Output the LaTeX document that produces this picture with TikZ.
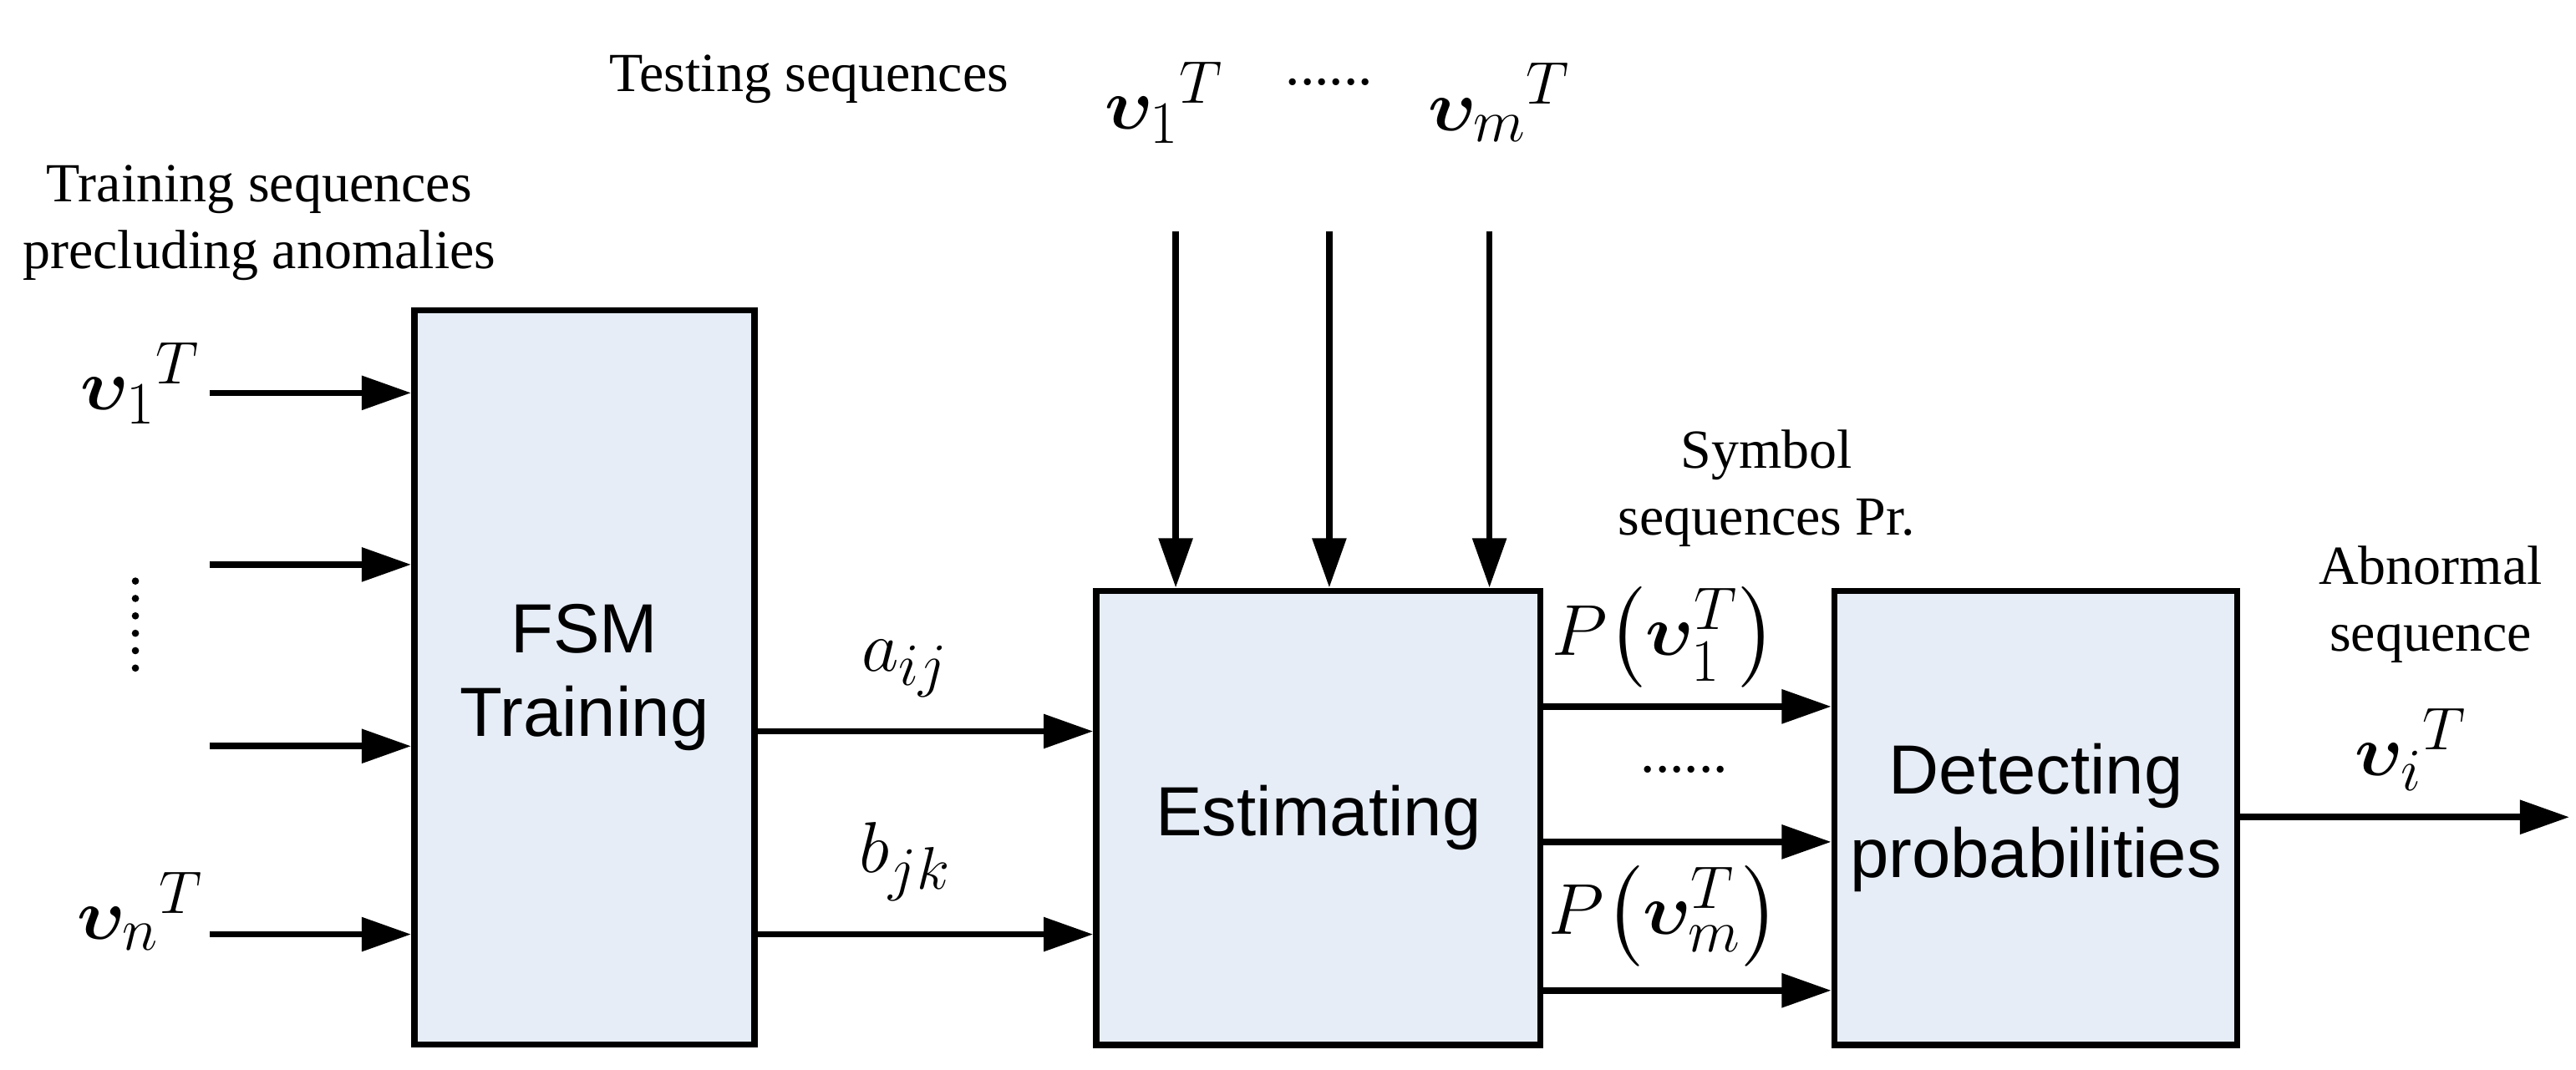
\documentclass[tikz,border=0pt]{standalone}
\usepackage{fontspec}
\usepackage{amsmath,amssymb,bm}
\setmainfont{Liberation Serif}
\newfontfamily\sansf{Liberation Sans}
\usetikzlibrary{arrows.meta}
\begin{document}
\begin{tikzpicture}[x=0.02cm,y=-0.02cm,
 box/.style={draw,line width=2.2pt,fill=boxc,inner sep=0},
 arr/.style={line width=2.2pt,-{Triangle[length=0.6cm,width=0.4cm]}},
 lab/.style={font=\fontsize{19}{23}\selectfont,align=center},
 bt/.style={font=\sansf\fontsize{24}{29}\selectfont,align=center},
 sym/.style={font=\fontsize{29}{33}\selectfont,inner sep=1pt}]
\definecolor{boxc}{HTML}{E6EDF7}
\useasboundingbox (0,0) rectangle (1560,648);
\node[box,minimum width=4.12cm,minimum height=8.9cm,anchor=north west] (fsm) at (249,186) {};
\node[bt] at (fsm.center) {FSM\\Training};
\node[box,minimum width=5.38cm,minimum height=5.5cm,anchor=north west] (est) at (662,356) {};
\node[bt] at (est.center) {Estimating};
\node[box,minimum width=4.88cm,minimum height=5.5cm,anchor=north west] (det) at (1109,356) {};
\node[bt] at (det.center) {Detecting\\probabilities};
% left inputs
\foreach \y/\n in {238/a,342/b,452/c,566/d}{\coordinate (l\n) at (127,\y); \draw[arr] (l\n) -- (l\n -| fsm.west);}
\node[lab] (tr) at (157,135) {Training sequences\\precluding anomalies};
\node[sym] (v1) at (85,232) {$\bm{\upsilon}_1{}^{T}$};
\node[sym] (vn) at (85,552) {$\bm{\upsilon}_n{}^{T}$};
\draw[line width=2.5pt,dash pattern=on 0pt off 6pt,line cap=round] (82,352) -- (82,410);
% FSM -> est
\coordinate (fa) at (fsm.east |- 0,443); \coordinate (fb) at (fsm.east |- 0,566);
\draw[arr] (fa) -- (fa -| est.west); \draw[arr] (fb) -- (fb -| est.west);
\node[sym] (aij) at (548,405) {$a_{ij}$};
\node[sym] (bjk) at (548,522) {$b_{jk}$};
% top inputs
\foreach \x/\n in {712/a,805/b,902/c}{\coordinate (t\n) at (\x,140); \draw[arr] (t\n) -- (t\n |- est.north);}
\node[lab] (ts) at (490,48) {Testing sequences};
\node[sym] (tv1) at (705,62) {$\bm{\upsilon}_1{}^{T}$};
\node[font=\fontsize{20}{22}\selectfont] (td) at (805,50) {......};
\node[sym] (tvm) at (908,62) {$\bm{\upsilon}_m{}^{T}$};
% est -> det
\foreach \y/\n in {428/a,510/b,600/c}{\coordinate (e\n) at (est.east |- 0,\y); \draw[arr] (e\n) -- (e\n -| det.west);}
\node[lab] (sp) at (1070,296) {Symbol\\sequences Pr.};
\node[sym] (p1) at (1008,386) {$P\big(\bm{\upsilon}_1^{T}\big)$};
\node[font=\fontsize{20}{22}\selectfont] (pd) at (1020,466) {......};
\node[sym] (pm) at (1008,555) {$P\big(\bm{\upsilon}_m^{T}\big)$};
% output
\coordinate (oa) at (det.east |- 0,495); \coordinate (ob) at (1556,495);
\draw[arr] (oa) -- (ob);
\node[lab] (ab) at (1472,366) {Abnormal\\sequence};
\node[sym] (vi) at (1460,454) {$\bm{\upsilon}_i{}^{T}$};
\end{tikzpicture}
\end{document}
